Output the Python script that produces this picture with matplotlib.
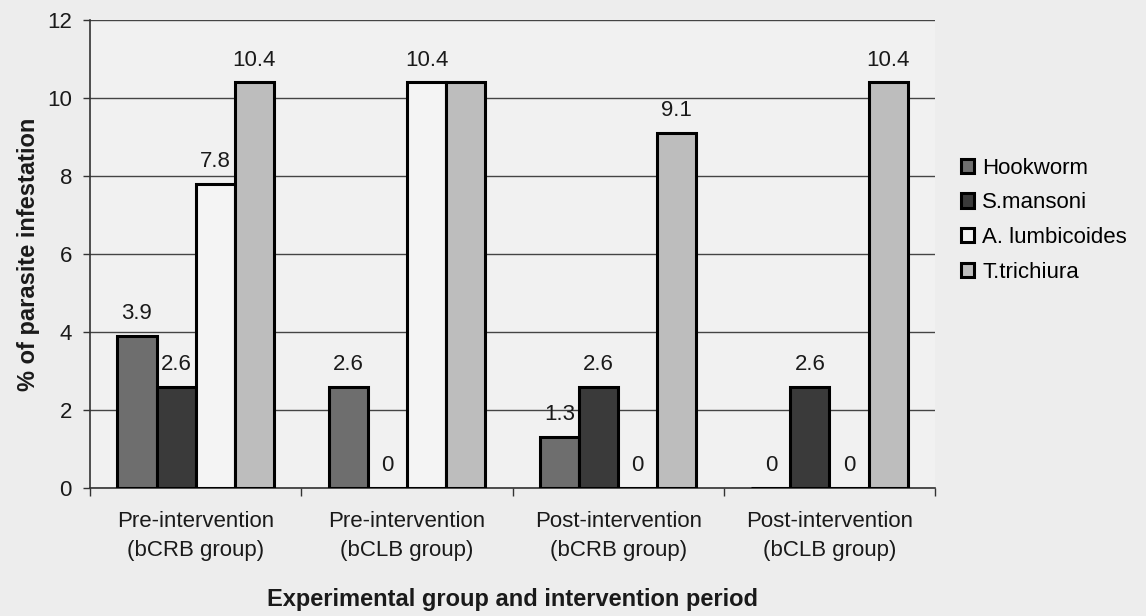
import numpy as np
import matplotlib.pyplot as plt

plt.rcParams['font.family'] = ['Liberation Sans', 'DejaVu Sans']

groups = ['Pre-intervention\n(bCRB group)', 'Pre-intervention\n(bCLB group)',
          'Post-intervention\n(bCRB group)', 'Post-intervention\n(bCLB group)']
parasites = ['Hookworm', 'S.mansoni', 'A. lumbicoides', 'T.trichiura']
hookworm = [3.9, 2.6, 1.3, 0]
s_mansoni = [2.6, 0, 2.6, 2.6]
a_lumbicoides = [7.8, 10.4, 0, 0]
t_trichiura = [10.4, 10.4, 9.1, 10.4]
# labels the original chart shows (one 10.4 in group 2 is hidden)
show_label = [[True, True, True, True],
              [True, True, True, True],
              [True, True, True, True],
              [True, False, True, True]]

series = [hookworm, s_mansoni, a_lumbicoides, t_trichiura]
colors = ['#6e6e6e', '#3a3a3a', '#f4f4f4', '#bdbdbd']

fig = plt.figure(figsize=(11.46, 6.16), dpi=100, facecolor='#ededed')
ax = fig.add_axes([0.0785, 0.208, 0.7375, 0.7595])
ax.set_facecolor('#f1f1f1')

x = np.arange(len(groups))
w = 0.185
for i, (vals, c) in enumerate(zip(series, colors)):
    pos = x + (i - 1.5) * w
    ax.bar(pos, vals, width=w, color=c, edgecolor='black', linewidth=2.2,
           label=parasites[i], zorder=3)
    for j, (p, v) in enumerate(zip(pos, vals)):
        if show_label[i][j]:
            ax.text(p, v + 0.3, f'{v:g}', ha='center', va='bottom',
                    fontsize=16, color='#1a1a1a', zorder=4)

ax.set_xlim(-0.5, len(groups) - 0.5)
ax.set_ylim(0, 12)
ax.set_yticks(np.arange(0, 13, 2))
ax.yaxis.grid(True, color='#444444', linewidth=1.0, zorder=0)
ax.set_axisbelow(True)

ax.set_xticks(x)
ax.set_xticklabels(groups, fontsize=16, color='#1a1a1a', linespacing=1.45)
ax.set_xticks(np.arange(-0.5, len(groups)), minor=True)
ax.tick_params(axis='x', which='major', length=0, pad=17)
ax.tick_params(axis='x', which='minor', length=6, width=1, color='#333333')
ax.tick_params(axis='y', labelsize=16, length=5, width=1, color='#333333',
               labelcolor='#1a1a1a', pad=8)

for s in ['top', 'right']:
    ax.spines[s].set_visible(False)
ax.spines['left'].set_color('#333333')
ax.spines['bottom'].set_color('#333333')
ax.spines['left'].set_linewidth(1.2)
ax.spines['bottom'].set_linewidth(1.2)

ax.set_ylabel('% of parasite infestation', fontsize=17, fontweight='bold',
              labelpad=5, color='#1a1a1a')
ax.set_xlabel('Experimental group and intervention period', fontsize=17,
              fontweight='bold', labelpad=20, color='#1a1a1a')

leg = ax.legend(loc='upper left', bbox_to_anchor=(1.02, 0.725), frameon=False,
                fontsize=16, handlelength=0.6, handleheight=0.6,
                handletextpad=0.35, labelspacing=0.62, borderaxespad=0)

fig.savefig('out.png', dpi=100, facecolor=fig.get_facecolor())
